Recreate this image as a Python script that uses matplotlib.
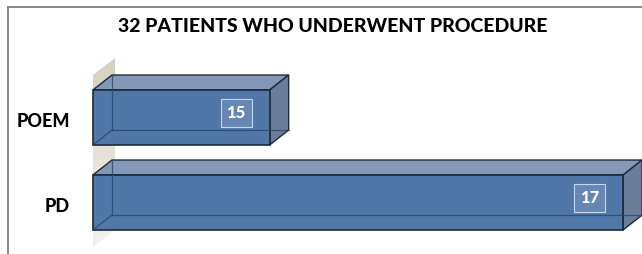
import matplotlib
matplotlib.use("Agg")
import matplotlib.pyplot as plt
import numpy as np
from matplotlib.patches import Polygon

# data
categories = ["POEM", "PD"]
values = [15, 17]
title = "32 PATIENTS WHO UNDERWENT PROCEDURE"
x_base = 14

FRONT = "#4f77a7"
TOP = "#8398b6"
SIDE = "#6a7e9a"
EDGE = "#1e2a3a"

fig = plt.figure(figsize=(6.42, 2.54), dpi=100)
ax = fig.add_axes([0, 0, 1, 1])
ax.set_xlim(13.474, 17.107)
ax.set_ylim(1.606, -1.382)
ax.axis("off")

bar_h = 0.647
dx = 0.1075
dy = -0.176

# back wall
wx = 0.125
wdy = -0.2
wall = Polygon([(x_base, -0.5), (x_base + wx, -0.5 + wdy),
                (x_base + wx, 1.524 + wdy), (x_base, 1.524)],
               closed=True, facecolor="none", edgecolor="none")
ax.add_patch(wall)
grad = np.linspace(0, 1, 100).reshape(-1, 1)
im = ax.imshow(grad, cmap=matplotlib.colors.LinearSegmentedColormap.from_list(
    "w", ["#d6d0c0", "#e6e2d8", "#f4f2ee"]),
    extent=(x_base, x_base + wx, 1.524, -0.7), aspect="auto", zorder=1)
im.set_clip_path(wall)

for i, (cat, v) in enumerate(zip(categories, values)):
    top = i - bar_h / 2
    bot = i + bar_h / 2
    # top face
    ax.add_patch(Polygon([(x_base, top), (v, top), (v + dx, top + dy), (x_base + dx, top + dy)],
                         closed=True, facecolor=TOP, edgecolor=EDGE, lw=1.0, zorder=3))
    # right face
    ax.add_patch(Polygon([(v, top), (v + dx, top + dy), (v + dx, bot + dy), (v, bot)],
                         closed=True, facecolor=SIDE, edgecolor=EDGE, lw=1.0, zorder=3))
    # front face
    ax.add_patch(Polygon([(x_base, top), (v, top), (v, bot), (x_base, bot)],
                         closed=True, facecolor=FRONT, edgecolor=EDGE, lw=1.2, zorder=4))
    # hidden edges seen through
    ax.plot([x_base + dx, x_base + dx], [top + dy, bot + dy], color="#2c466b", lw=0.9, alpha=0.8, zorder=5)
    ax.plot([x_base + dx, v + dx], [bot + dy, bot + dy], color="#2c466b", lw=0.9, alpha=0.8, zorder=5)
    ax.plot([x_base, x_base + dx], [bot, bot + dy], color="#2c466b", lw=0.9, alpha=0.8, zorder=5)
    # value label
    ax.text(v - 0.19, i - 0.05, str(v), ha="center", va="center", color="white",
            fontsize=12, fontweight="black", family="Lato", zorder=6,
            bbox=dict(boxstyle="square,pad=0.35", facecolor="#6587b4", edgecolor="#c9d5e6", lw=0.8))
    # category label
    ax.text(13.474 + 70 / 176.7, i + 0.05, cat, ha="right", va="center", color="black",
            fontsize=13, fontweight="black", family="Lato")

# frame
fig.add_artist(plt.Line2D([8 / 642, 1], [1 - 7 / 254, 1 - 7 / 254], color="#808080", lw=1.3))
fig.add_artist(plt.Line2D([8 / 642, 8 / 642], [0, 1 - 7 / 254], color="#808080", lw=1.3))

fig.text(333 / 642, 1 - 27 / 254, title, ha="center", va="center",
         fontsize=14, fontweight="black", family="Lato")

fig.savefig("out.png", dpi=100)
